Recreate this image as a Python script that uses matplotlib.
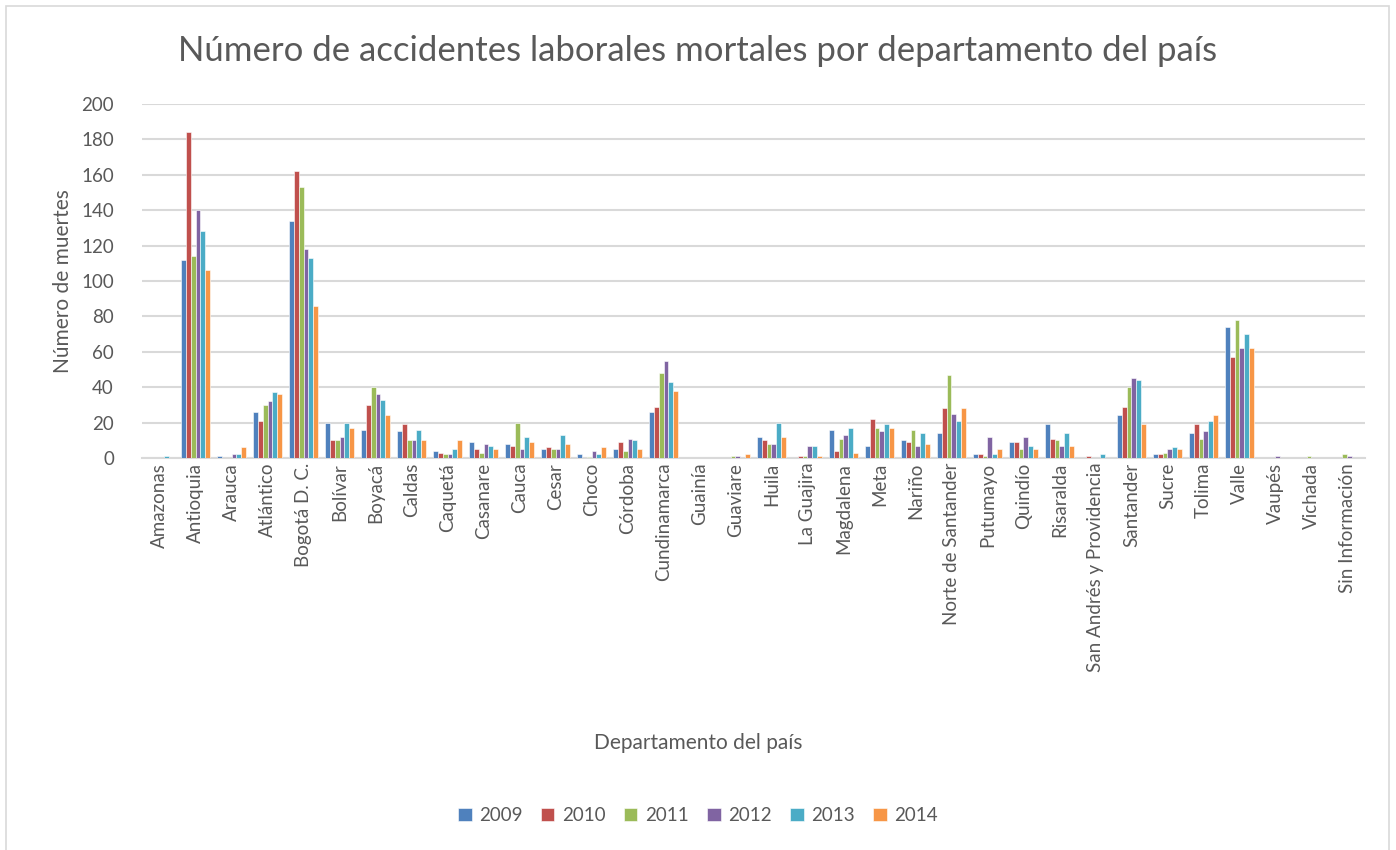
import numpy as np
import matplotlib
matplotlib.use("Agg")
import matplotlib.pyplot as plt
from matplotlib.patches import Rectangle

plt.rcParams['font.family'] = ['Lato', 'DejaVu Sans']

departamentos = ["Amazonas", "Antioquia", "Arauca", "Atlántico", "Bogotá D. C.", "Bolívar",
                 "Boyacá", "Caldas", "Caquetá", "Casanare", "Cauca", "Cesar", "Choco",
                 "Córdoba", "Cundinamarca", "Guainía", "Guaviare", "Huila", "La Guajira",
                 "Magdalena", "Meta", "Nariño", "Norte de Santander", "Putumayo", "Quindío",
                 "Risaralda", "San Andrés y Providencia", "Santander", "Sucre", "Tolima",
                 "Valle", "Vaupés", "Vichada", "Sin Información"]

years = ["2009", "2010", "2011", "2012", "2013", "2014"]

v2009 = [0, 112, 1, 26, 134, 20, 16, 15, 4, 9, 8, 5, 2, 5, 26, 0, 0, 12, 0, 16, 7, 10, 14, 2, 9, 19, 0, 24, 2, 14, 74, 0, 0, 0]
v2010 = [0, 184, 0, 21, 162, 10, 30, 19, 3, 5, 7, 6, 0, 9, 29, 0, 0, 10, 1, 4, 22, 9, 28, 2, 9, 11, 1, 29, 2, 19, 57, 0, 0, 0]
v2011 = [0, 114, 0, 30, 153, 10, 40, 10, 2, 3, 20, 5, 0.5, 4, 48, 0, 1, 8, 1, 11, 17, 16, 47, 1, 5, 10, 0, 40, 3, 11, 78, 0, 1, 2]
v2012 = [0, 140, 2, 32, 118, 12, 36, 10, 2, 8, 5, 5, 4, 11, 55, 0, 1, 8, 7, 13, 15, 7, 25, 12, 12, 7, 0, 45, 5, 15, 62, 1, 0, 1]
v2013 = [1, 128, 2, 37, 113, 20, 33, 16, 5, 7, 12, 13, 2, 10, 43, 0, 0, 20, 7, 17, 19, 14, 21, 2, 7, 14, 2, 44, 6, 21, 70, 0, 0, 0]
v2014 = [0, 106, 6, 36, 86, 17, 24, 10, 10, 5, 9, 8, 6, 5, 38, 0, 2, 12, 1, 3, 17, 8, 28, 5, 5, 7, 0, 19, 5, 24, 62, 0, 0, 0]

series = [v2009, v2010, v2011, v2012, v2013, v2014]
colors = ["#4F81BD", "#C0504D", "#9BBB59", "#8064A2", "#4BACC6", "#F79646"]

fig = plt.figure(figsize=(13.96, 8.5), dpi=100)
fig.patches.append(Rectangle((0.004, -0.01), 0.991, 1.003, transform=fig.transFigure,
                             fill=False, edgecolor="#D9D9D9", linewidth=1.2))
ax = fig.add_axes([0.1015, 0.4612, 0.8765, 0.4165])

x = np.arange(len(departamentos))
n = len(series)
bw = 0.8 / n
for i, (vals, col, yr) in enumerate(zip(series, colors, years)):
    ax.bar(x - 0.4 + bw * (i + 0.5), vals, width=bw, color=col, label=yr,
           edgecolor="white", linewidth=0.4, zorder=3)

ax.set_xlim(-0.5, len(departamentos) - 0.5)
ax.set_ylim(0, 200)
ax.set_yticks(np.arange(0, 201, 20))
ax.yaxis.grid(True, color="#D9D9D9", linewidth=1.5, zorder=0)
ax.set_axisbelow(True)
for s in ["top", "right", "left"]:
    ax.spines[s].set_visible(False)
ax.spines["bottom"].set_color("#D9D9D9")
ax.spines["bottom"].set_linewidth(1.5)
ax.tick_params(axis="both", length=0, labelsize=13.5, labelcolor="#595959")
ax.tick_params(axis="y", pad=20)
ax.set_xticks(x)
ax.set_xticklabels(departamentos, rotation=90)

fig.text(0.5, 0.94, "Número de accidentes laborales mortales por departamento del país",
         ha="center", va="center", fontsize=25, color="#595959")
ax.set_ylabel("Número de muertes", fontsize=15, color="#595959", labelpad=6)
fig.text(0.5, 0.126, "Departamento del país", ha="center", va="center",
         fontsize=15, color="#595959")

handles, labels = ax.get_legend_handles_labels()
fig.legend(handles, labels, loc="center", bbox_to_anchor=(0.5, 0.041), ncol=6,
           frameon=False, fontsize=13.5, handlelength=0.7, handleheight=0.7,
           columnspacing=1.0, handletextpad=0.4, labelcolor="#595959")

fig.savefig("out.png", dpi=100)
